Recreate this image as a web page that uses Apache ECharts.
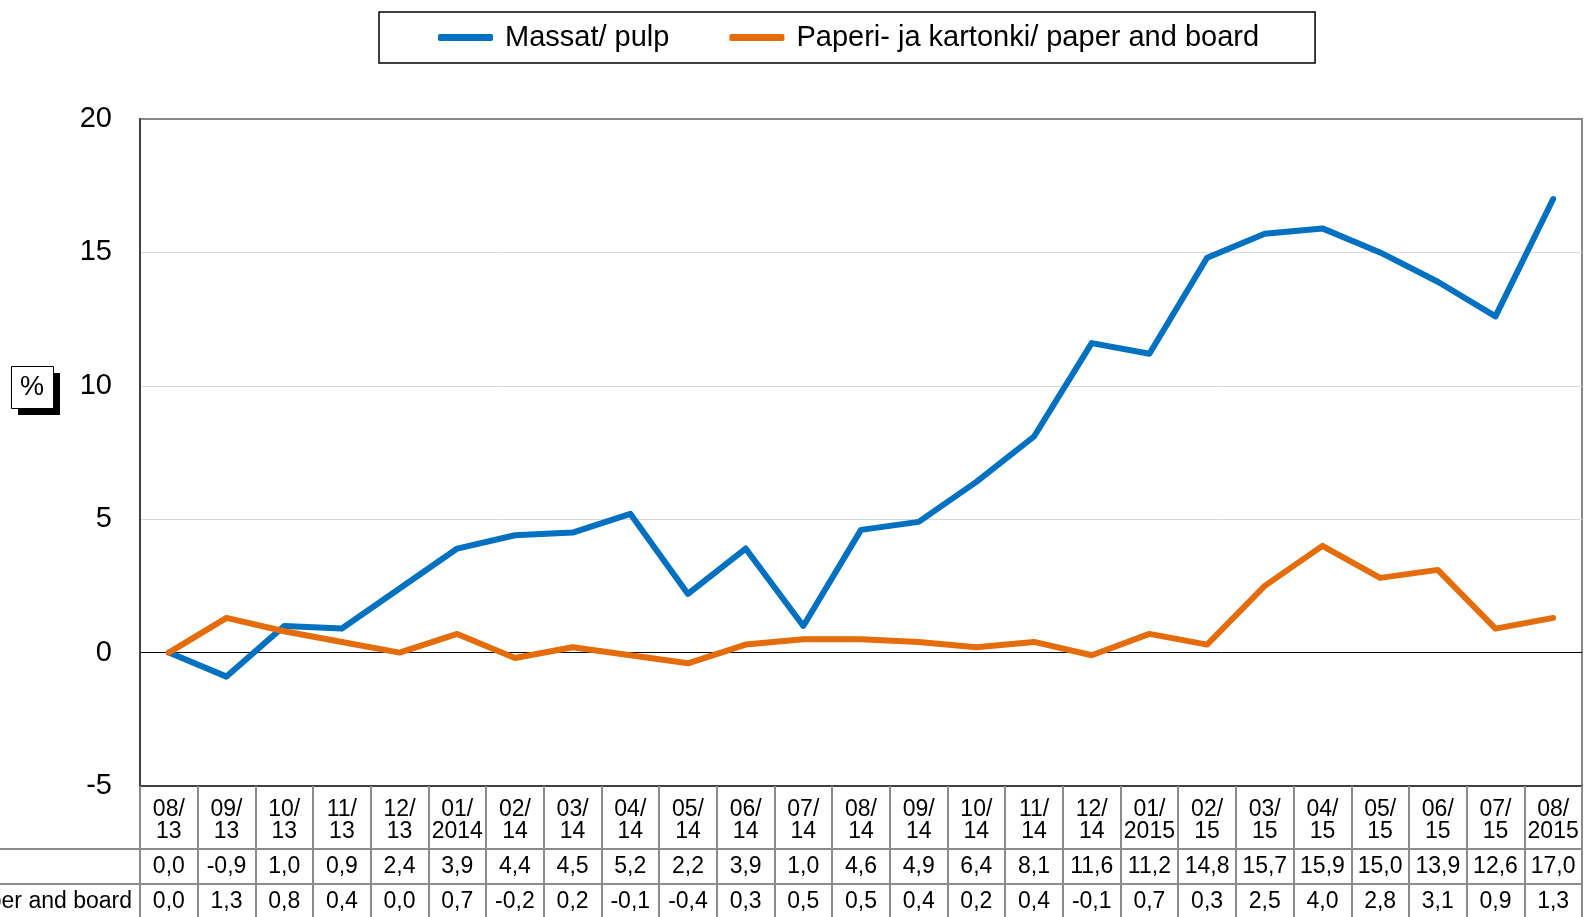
<!DOCTYPE html>
<html>
<head>
<meta charset="utf-8">
<script src="https://cdn.jsdelivr.net/npm/echarts@6/dist/echarts.min.js"></script>
<style>
  html, body { margin: 0; padding: 0; background: #fff; }
  #chart { width: 1586px; height: 917px; }
</style>
</head>
<body>
<div id="chart"></div>
<script>
// months shown in the data table under the chart
const months = ['08/13', '09/13', '10/13', '11/13', '12/13', '01/2014', '02/14', '03/14', '04/14',
  '05/14', '06/14', '07/14', '08/14', '09/14', '10/14', '11/14', '12/14', '01/2015', '02/15',
  '03/15', '04/15', '05/15', '06/15', '07/15', '08/2015'];
// cumulative change, %
const pulp = [0.0, -0.9, 1.0, 0.9, 2.4, 3.9, 4.4, 4.5, 5.2, 2.2, 3.9, 1.0, 4.6, 4.9, 6.4, 8.1,
  11.6, 11.2, 14.8, 15.7, 15.9, 15.0, 13.9, 12.6, 17.0];
const paper = [0.0, 1.3, 0.8, 0.4, 0.0, 0.7, -0.2, 0.2, -0.1, -0.4, 0.3, 0.5, 0.5, 0.4, 0.2, 0.4,
  -0.1, 0.7, 0.3, 2.5, 4.0, 2.8, 3.1, 0.9, 1.3];
const names = ['Massat/ pulp', 'Paperi- ja kartonki/ paper and board'];
const yMin = -5, yMax = 20, yStep = 5;

const FONT = '"Liberation Sans", Arial, sans-serif';
const BLUE = '#0070c0';
const ORANGE = '#e46c0a';
const TABLE_LINE = '#8c8c8c';
const TABLE_FONT = 23;

const fmt = v => v.toFixed(1).replace('.', ',');

// width of the long row label, so both row labels start at the same x
const ctx = document.createElement('canvas').getContext('2d');
ctx.font = TABLE_FONT + 'px "Liberation Sans"';
const labelLeft = 132 - ctx.measureText(names[1]).width;

const myChart = echarts.init(document.getElementById('chart'));

function tableAxis(values, offset) {
  return {
    type: 'category',
    data: months,
    position: 'bottom',
    offset: offset,
    axisLine: { show: true, onZero: false, lineStyle: { color: TABLE_LINE, width: 2 } },
    axisTick: { show: true, interval: 0, length: 36, lineStyle: { color: TABLE_LINE, width: 2 } },
    axisLabel: {
      interval: 0, margin: 7, fontSize: TABLE_FONT, lineHeight: 22, color: '#000', fontFamily: FONT,
      formatter: (v, i) => fmt(values[i])
    },
    splitLine: { show: false }
  };
}

let option = {
  backgroundColor: '#fff',
  animation: false,
  textStyle: { fontFamily: FONT },
  legend: {
    left: 379,
    top: 12,
    padding: [11, 56, 11, 59],
    itemGap: 60,
    itemWidth: 55,
    itemHeight: 7,
    icon: 'roundRect',
    borderColor: '#000',
    borderWidth: 1.5,
    textStyle: { fontSize: 29, color: '#000', fontFamily: FONT, padding: [0, 0, 0, 7] },
    data: names
  },
  grid: {
    left: 140,
    right: 4,
    top: 119,
    bottom: 131,
    show: true,
    borderColor: '#888',
    borderWidth: 2
  },
  xAxis: [
    {
      type: 'category',
      data: months,
      position: 'bottom',
      boundaryGap: true,
      axisLine: { show: true, onZero: false, lineStyle: { color: '#404040', width: 2 } },
      axisTick: { show: true, interval: 0, length: 63, lineStyle: { color: TABLE_LINE, width: 2 } },
      axisLabel: {
        interval: 0, margin: 13, fontSize: TABLE_FONT, lineHeight: 22, color: '#000', fontFamily: FONT,
        formatter: s => s.replace('/', '/\n')
      },
      splitLine: { show: false }
    },
    tableAxis(pulp, 63),
    tableAxis(paper, 98)
  ],
  yAxis: {
    type: 'value',
    min: yMin,
    max: yMax,
    interval: yStep,
    axisLine: { show: true, lineStyle: { color: '#404040', width: 2 } },
    axisTick: { show: false },
    axisLabel: { fontSize: 29, color: '#000', margin: 28, fontFamily: FONT },
    splitLine: {
      show: true,
      lineStyle: { color: ['transparent', '#000', '#d9d9d9', '#d9d9d9', '#d9d9d9', 'transparent'], width: 1 }
    }
  },
  graphic: [
    // "%" unit box with its drop shadow
    { type: 'rect', left: 18, top: 373, shape: { width: 42, height: 42 }, style: { fill: '#000' } },
    { type: 'rect', left: 11, top: 366, shape: { width: 42, height: 42 }, style: { fill: '#fff', stroke: '#000', lineWidth: 1 } },
    { type: 'text', x: 32, y: 388, style: { text: '%', fontSize: 27, fontFamily: FONT, fill: '#000', align: 'center', verticalAlign: 'middle' } },
    // row label column of the data table
    { type: 'line', shape: { x1: 0, y1: 849, x2: 140, y2: 849 }, style: { stroke: TABLE_LINE, lineWidth: 2 } },
    { type: 'line', shape: { x1: 0, y1: 884, x2: 140, y2: 884 }, style: { stroke: TABLE_LINE, lineWidth: 2 } },
    { type: 'text', x: labelLeft, y: 867, style: { text: names[0], fontSize: TABLE_FONT, fontFamily: FONT, fill: '#000', verticalAlign: 'middle' } },
    { type: 'text', x: labelLeft, y: 902, style: { text: names[1], fontSize: TABLE_FONT, fontFamily: FONT, fill: '#000', verticalAlign: 'middle' } }
  ],
  series: [
    {
      name: names[0], type: 'line', data: pulp, symbol: 'none', color: BLUE,
      lineStyle: { width: 6, color: BLUE, cap: 'round', join: 'round' }
    },
    {
      name: names[1], type: 'line', data: paper, symbol: 'none', color: ORANGE,
      lineStyle: { width: 6, color: ORANGE, cap: 'round', join: 'round' }
    }
  ]
};
myChart.setOption(option);
</script>
</body>
</html>
